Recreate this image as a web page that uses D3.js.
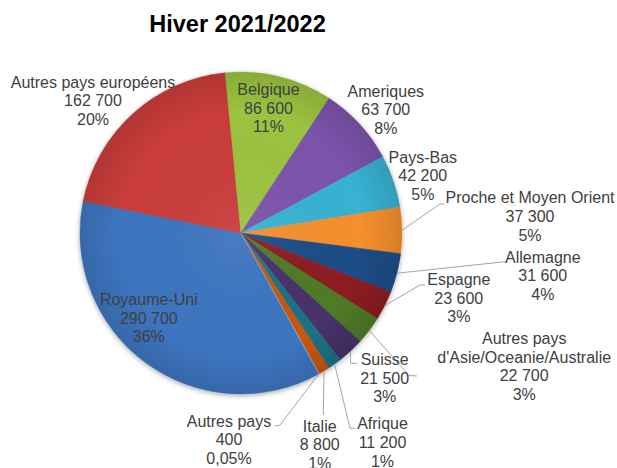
<!DOCTYPE html>
<html>
<head>
<meta charset="utf-8">
<script src="https://cdn.jsdelivr.net/npm/d3@7"></script>
<style>
  html, body { margin: 0; padding: 0; background: #fff; }
  svg { display: block; font-family: "Liberation Sans", Arial, sans-serif; }
</style>
</head>
<body>
<svg id="chart" width="617" height="468"></svg>
<script>
// ---- data ----
const title = "Hiver 2021/2022";
const categories = ["Royaume-Uni", "Autres pays européens", "Belgique", "Ameriques", "Pays-Bas",
  "Proche et Moyen Orient", "Allemagne", "Espagne", "Autres pays d'Asie/Oceanie/Australie",
  "Suisse", "Afrique", "Italie", "Autres pays"];
const values = [290700, 162700, 86600, 63700, 42200, 37300, 31600, 23600, 22700, 21500, 11200, 8800, 400];
const percentLabels = ["36%", "20%", "11%", "8%", "5%", "5%", "4%", "3%", "3%", "3%", "1%", "1%", "0,05%"];

// ---- styles / layout ----
const colors = ["#3d75c0", "#c93c3b", "#9bc33f", "#7c52ab", "#38b2d2", "#f58f2e",
  "#1f4e86", "#8c1d22", "#4f7a28", "#46306a", "#1f7283", "#c8560f", "#7fa6d8"];
const nameLines = {
  "Autres pays d'Asie/Oceanie/Australie": ["Autres pays", "d'Asie/Oceanie/Australie"]
};
// label anchor: centre x, first baseline y; leader: [elbow, end] (null = no leader)
const labelLayout = [
  {cx: 148.8, y: 305,   leader: null},
  {cx: 93,    y: 87.5,  leader: null},
  {cx: 268.5, y: 95,    leader: null},
  {cx: 385.8, y: 96.7,  leader: null},
  {cx: 422.8, y: 162.7, leader: null},
  {cx: 530,   y: 203.3, leader: [[440, 204], [444, 204]]},
  {cx: 542.8, y: 262.7, leader: [[505, 261.7], [505, 261.7]]},
  {cx: 458.8, y: 285,   leader: [[420, 285], [425, 285]]},
  {cx: 524.2, y: 344,   leader: [[409, 375.5], [417, 376]]},
  {cx: 384.7, y: 365,   leader: [[350.5, 363.3], [357, 363.3]]},
  {cx: 382.5, y: 429.3, leader: [[350, 428.3], [355, 428.3]]},
  {cx: 319.7, y: 431.7, leader: [[323.3, 415], [323.3, 415]]},
  {cx: 229,   y: 426.7, leader: [[280, 425], [275, 426]]}
];
const cx = 241, cy = 233, R = 161;
const lineH = 18.7;
const startDeg = 151.1;

const fmt = d3.formatLocale({decimal: ",", thousands: " ", grouping: [3], currency: ["", ""]}).format(",d");

const svg = d3.select("#chart");
const defs = svg.append("defs");
const f = defs.append("filter").attr("id", "shadow").attr("x", "-10%").attr("y", "-10%").attr("width", "120%").attr("height", "120%");
f.append("feDropShadow").attr("dx", 0).attr("dy", 1.5).attr("stdDeviation", 2.5).attr("flood-color", "#000").attr("flood-opacity", 0.35);
const rg = defs.append("radialGradient").attr("id", "shade").attr("cx", "50%").attr("cy", "50%").attr("r", "50%");
rg.append("stop").attr("offset", "0%").attr("stop-color", "#fff").attr("stop-opacity", 0.06);
rg.append("stop").attr("offset", "75%").attr("stop-color", "#000").attr("stop-opacity", 0.0);
rg.append("stop").attr("offset", "100%").attr("stop-color", "#000").attr("stop-opacity", 0.12);

// title
svg.append("text")
  .attr("x", 237.5).attr("y", 31.7)
  .attr("text-anchor", "middle")
  .attr("font-size", 23.5).attr("font-weight", "bold").attr("fill", "#000")
  .text(title);

const data = categories.map((c, i) => ({name: c, value: values[i], pct: percentLabels[i], i}));
const pie = d3.pie().sort(null).value(d => d.value)
  .startAngle(startDeg * Math.PI / 180)
  .endAngle(startDeg * Math.PI / 180 + 2 * Math.PI);
const arcs = pie(data);
const arc = d3.arc().innerRadius(0).outerRadius(R);

const g = svg.append("g").attr("transform", `translate(${cx},${cy})`);
const pg = g.append("g").attr("filter", "url(#shadow)");
pg.selectAll("path.slice").data(arcs).join("path")
  .attr("class", "slice")
  .attr("d", arc)
  .attr("fill", d => colors[d.data.i])
  .attr("stroke", d => colors[d.data.i])
  .attr("stroke-width", 0.5);
g.append("circle").attr("r", R).attr("fill", "url(#shade)");

// leader lines
const lg = svg.append("g");
arcs.forEach(a => {
  const L = labelLayout[a.data.i];
  if (!L.leader) return;
  const mid = (a.startAngle + a.endAngle) / 2;
  const p0 = [cx + R * Math.sin(mid), cy - R * Math.cos(mid)];
  const pts = [p0, ...L.leader];
  lg.append("path")
    .attr("d", d3.line()(pts))
    .attr("fill", "none").attr("stroke", "#a6a6a6").attr("stroke-width", 1);
});

// labels
const tg = svg.append("g").attr("font-size", 16).attr("fill", "#404040").attr("text-anchor", "middle");
arcs.forEach(a => {
  const d = a.data, L = labelLayout[d.i];
  const lines = (nameLines[d.name] || [d.name]).concat([fmt(d.value), d.pct]);
  const t = tg.append("text").attr("x", L.cx).attr("y", L.y);
  lines.forEach((s, k) => {
    t.append("tspan").attr("x", L.cx).attr("y", L.y + k * lineH).text(s);
  });
});
</script>
</body>
</html>
